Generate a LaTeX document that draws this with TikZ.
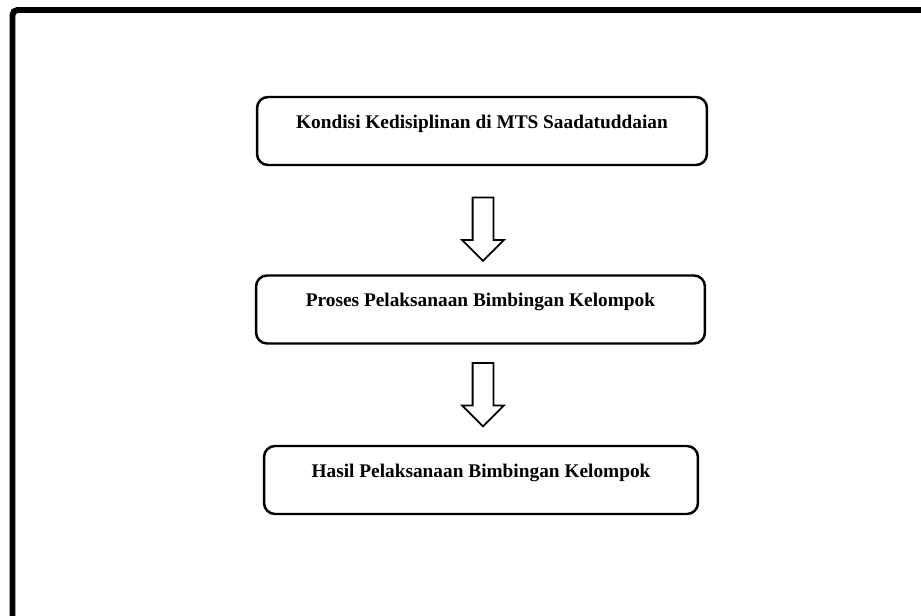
\documentclass[tikz,border=0pt]{standalone}
\usepackage{fontspec}
\setmainfont{Liberation Serif}
\usetikzlibrary{shapes.arrows}

\begin{document}
\begin{tikzpicture}[x=0.02cm, y=-0.02cm, font=\fontsize{11}{13}\selectfont\bfseries,
  stepbox/.style={draw, line width=1.4pt, rounded corners=0.22cm, inner sep=0pt,
    text height=0.62cm, text depth=0.74cm},
  blockarr/.style={draw, line width=1pt, single arrow, shape border rotate=270,
    minimum height=1.27cm, minimum width=0pt, inner sep=0.19cm,
    single arrow head extend=0.21cm},
]

% Page and frame
\useasboundingbox (0,0) rectangle (921,616);
\clip (0,0) rectangle (921,616);
\draw[line width=3.4pt, rounded corners=0.1cm]
  (12.5,700) -- (12.5,10) -- (1000,10);

% Boxes
\node[stepbox, minimum width=9cm] (kondisi) at (482,131)
  {Kondisi Kedisiplinan di MTS Saadatuddaian};
\node[stepbox, minimum width=8.98cm] (proses) at (480.5,309.5)
  {Proses Pelaksanaan Bimbingan Kelompok};
\node[stepbox, minimum width=8.68cm] (hasil) at (481,480)
  {Hasil Pelaksanaan Bimbingan Kelompok};

% Arrows between boxes
\node[blockarr] (panah1) at (483,224) {};
\node[blockarr] (panah2) at (483,389.5) {};

\end{tikzpicture}
\end{document}
